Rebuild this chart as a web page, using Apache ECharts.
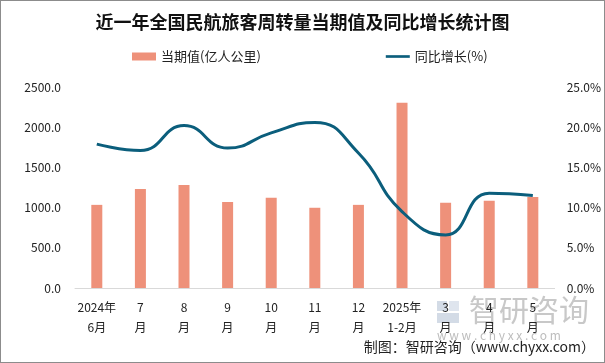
<!DOCTYPE html>
<html><head><meta charset="utf-8">
<script src="https://cdn.jsdelivr.net/npm/echarts@6/dist/echarts.min.js"></script>
<style>
html,body{margin:0;padding:0;background:#fff;}
#c{width:605px;height:363px;box-sizing:border-box;border:1px solid #8c8c8c;}
</style></head>
<body><div id="c"></div>
<script>
const categories = ['2024年\n6月','7\n月','8\n月','9\n月','10\n月','11\n月','12\n月','2025年\n1-2月','3\n月','4\n月','5\n月'];
const currentValues = [1034, 1231, 1281, 1071, 1121, 998, 1034, 2303, 1059, 1084, 1133];
const yoyGrowth = [17.9, 17.1, 20.2, 17.4, 19.3, 20.6, 16.8, 9.5, 6.6, 11.8, 11.5];
const leftTicks = [0, 500, 1000, 1500, 2000, 2500];
const rightTicks = [0, 5, 10, 15, 20, 25];

const chart = echarts.init(document.getElementById('c'), null, {renderer:'canvas'});
const font = 'Microsoft YaHei, "Noto Sans CJK SC", sans-serif';
chart.setOption({
  animation:false,
  title:{text:'近一年全国民航旅客周转量当期值及同比增长统计图',left:'center',top:7,
    textStyle:{fontSize:18,fontWeight:'bold',color:'#111',fontFamily:font}},
  legend:{top:44,left:126,itemGap:125,itemWidth:24,itemHeight:8,
    textStyle:{fontSize:13,color:'#222',fontFamily:font},
    data:[{name:'当期值(亿人公里)',icon:'rect'},{name:'同比增长(%)',icon:'path://M0,0H27V3H0Z'}]},
  grid:{left:74,right:47,top:86,bottom:74},
  xAxis:{type:'category',data:categories,
    axisLine:{lineStyle:{color:'#d9d9d9'}},axisTick:{show:false},
    axisLabel:{interval:0,fontSize:12,color:'#222',lineHeight:20,margin:9,fontFamily:font}},
  yAxis:[
    {type:'value',min:leftTicks[0],max:leftTicks[leftTicks.length-1],interval:500,
     splitLine:{show:false},axisLine:{show:false},axisTick:{show:false},
     axisLabel:{formatter:v=>v.toFixed(1),fontSize:12,color:'#222',margin:14,fontFamily:font}},
    {type:'value',min:rightTicks[0],max:rightTicks[rightTicks.length-1],interval:5,
     splitLine:{show:false},axisLine:{show:false},axisTick:{show:false},
     axisLabel:{formatter:v=>v.toFixed(1)+'%',fontSize:12,color:'#222',margin:12,fontFamily:font}}
  ],
  series:[
    {name:'当期值(亿人公里)',type:'bar',data:currentValues,barWidth:11,
     itemStyle:{color:'#EE917A'}},
    {name:'同比增长(%)',type:'line',yAxisIndex:1,data:yoyGrowth,smooth:0.5,
     symbol:'none',lineStyle:{color:'#0B5E7C',width:3},itemStyle:{color:'#0B5E7C'}}
  ],
  graphic:[
    {type:'group',left:436,top:300,z:0,children:[
      {type:'rect',shape:{x:0,y:0,width:10,height:10},style:{fill:'#d3dbe6'}},
      {type:'rect',shape:{x:12,y:0,width:10,height:10},style:{fill:'#dfe5ee'}},
      {type:'rect',shape:{x:0,y:12,width:22,height:10},style:{fill:'#d3dbe6'}}
    ]},
    {type:'text',left:468,top:294,z:0,style:{text:'智研咨询',font:'30px '+font,fill:'#c8c8c8'}},
    {type:'text',x:436,y:328,z:1,style:{text:'w w w . c h y x x . c o m',fontSize:12,fontFamily:font,fill:'#bdbdbd',textVerticalAlign:'top'}},
    {type:'text',right:9,top:339,z:10,style:{text:'制图：智研咨询（www.chyxx.com）',font:'14px '+font,fill:'#222'}}
  ]
});
</script></body></html>
